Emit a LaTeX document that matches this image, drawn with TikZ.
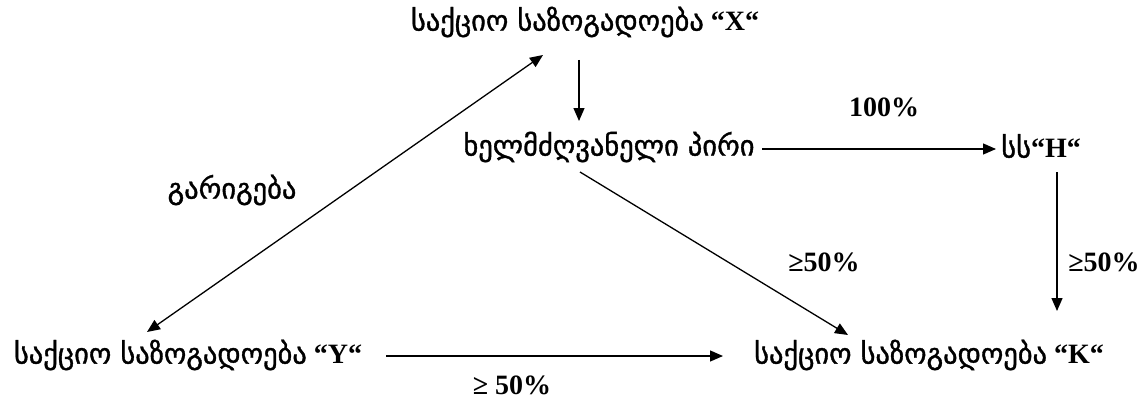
\documentclass[tikz,border=0pt]{standalone}
\usepackage{fontspec}
\setmainfont{Liberation Serif}
\newfontfamily\geo[FakeBold=1.2]{DejaVu Sans}
\usetikzlibrary{arrows.meta}
\begin{document}
\begin{tikzpicture}[x=1pt,y=-1pt,
  lbl/.style={inner sep=0pt,font=\fontsize{28}{31}\selectfont\bfseries},
  conn/.style={line width=1.3pt},
  arr/.style={conn,-{Triangle[length=13pt,width=11pt]}},
  darr/.style={conn,{Triangle[length=13pt,width=11pt]}-{Triangle[length=13pt,width=11pt]}}]
\useasboundingbox (0,0) rectangle (1145,404);
\newcommand{\gt}[1]{{\geo\mdseries\fontsize{28.5}{31}\selectfont #1}}
\node[lbl] (X) at (585,22) {\gt{საქციო საზოგადოება} “X“};
\node[lbl] (M) at (609,147) {\gt{ხელმძღვანელი პირი}};
\node[lbl] (H) at (1041,146) {\gt{სს}“H“};
\node[lbl] (p100) at (884,107) {100\%};
\node[lbl] (deal) at (232,190) {\gt{გარიგება}};
\node[lbl] (pmid) at (824,262) {≥50\%};
\node[lbl] (pright) at (1104,262) {≥50\%};
\node[lbl] (Y) at (188,355) {\gt{საქციო საზოგადოება} “Y“};
\node[lbl] (K) at (929,355) {\gt{საქციო საზოგადოება} “K“};
\node[lbl] (pbot) at (512,385) {≥ 50\%};
\coordinate (xa) at (579,60);
\coordinate (ma) at (579,121);
\coordinate (xd) at (543,55);
\coordinate (yd) at (147,332);
\coordinate (mh) at (762,149);
\coordinate (hh) at (996,149);
\coordinate (md) at (580,172);
\coordinate (kd) at (848,335);
\coordinate (hv) at (1057,172);
\coordinate (kv) at (1057,311);
\coordinate (yh) at (386,356);
\coordinate (kh) at (723,356);
\draw[arr] (xa) -- (ma);
\draw[darr] (xd) -- (yd);
\draw[arr] (mh) -- (hh);
\draw[arr] (md) -- (kd);
\draw[arr] (hv) -- (kv);
\draw[arr] (yh) -- (kh);
\end{tikzpicture}
\end{document}
